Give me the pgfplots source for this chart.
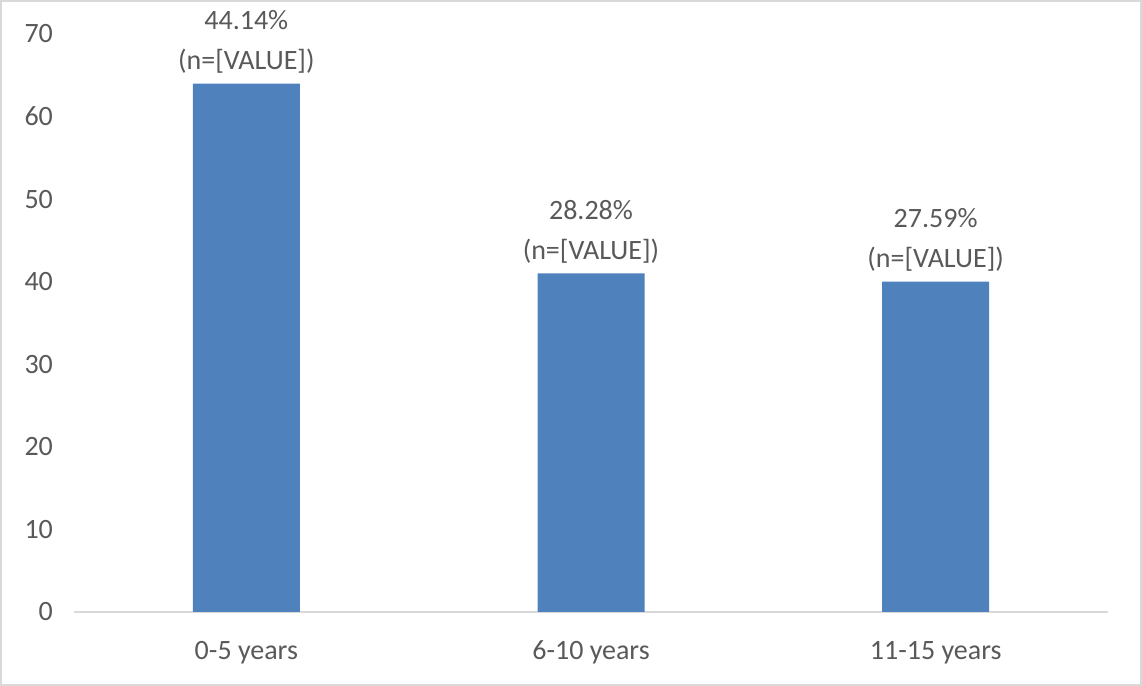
\documentclass[border=0pt]{standalone}
\usepackage{fontspec}
\setmainfont{Carlito}
\usepackage{pgfplots}
\pgfplotsset{compat=1.18}
\definecolor{barblue}{HTML}{4F81BD}
\definecolor{txt}{HTML}{595959}
\definecolor{axgray}{HTML}{D9D9D9}
\begin{document}
\begin{tikzpicture}
\path[use as bounding box] (0,0) rectangle (571pt,343pt);
\draw[axgray, line width=1pt] (0.5pt,0.5pt) rectangle (570.5pt,342.5pt);
\begin{axis}[
  at={(37pt,37pt)}, anchor=south west,
  width=517pt, height=289pt, scale only axis,
  xmin=-0.5, xmax=2.5, ymin=0, ymax=70,
  ytick={0,10,...,70},
  xtick=data, xticklabels={0-5 years,6-10 years,11-15 years},
  axis x line*=bottom, axis y line*=left,
  x axis line style={draw=axgray, line width=1pt},
  y axis line style={draw=none},
  major tick length=0pt,
  tick label style={font=\fontsize{14}{17}\selectfont, text=txt},
  yticklabel style={xshift=-7pt},
  xticklabel style={yshift=-11pt},
  /pgf/number format/assume math mode=true,
  ybar, bar width=53.5pt,
  point meta=explicit symbolic,
  nodes near coords={\pgfplotspointmeta\%\\(n=[VALUE])},
  nodes near coords style={font=\fontsize{14}{20}\selectfont, text=txt, align=center, anchor=south, inner sep=5pt},
]
\addplot[fill=barblue, draw=none] coordinates {(0,64) [44.14] (1,41) [28.28] (2,40) [27.59]};
\end{axis}
\end{tikzpicture}
\end{document}
